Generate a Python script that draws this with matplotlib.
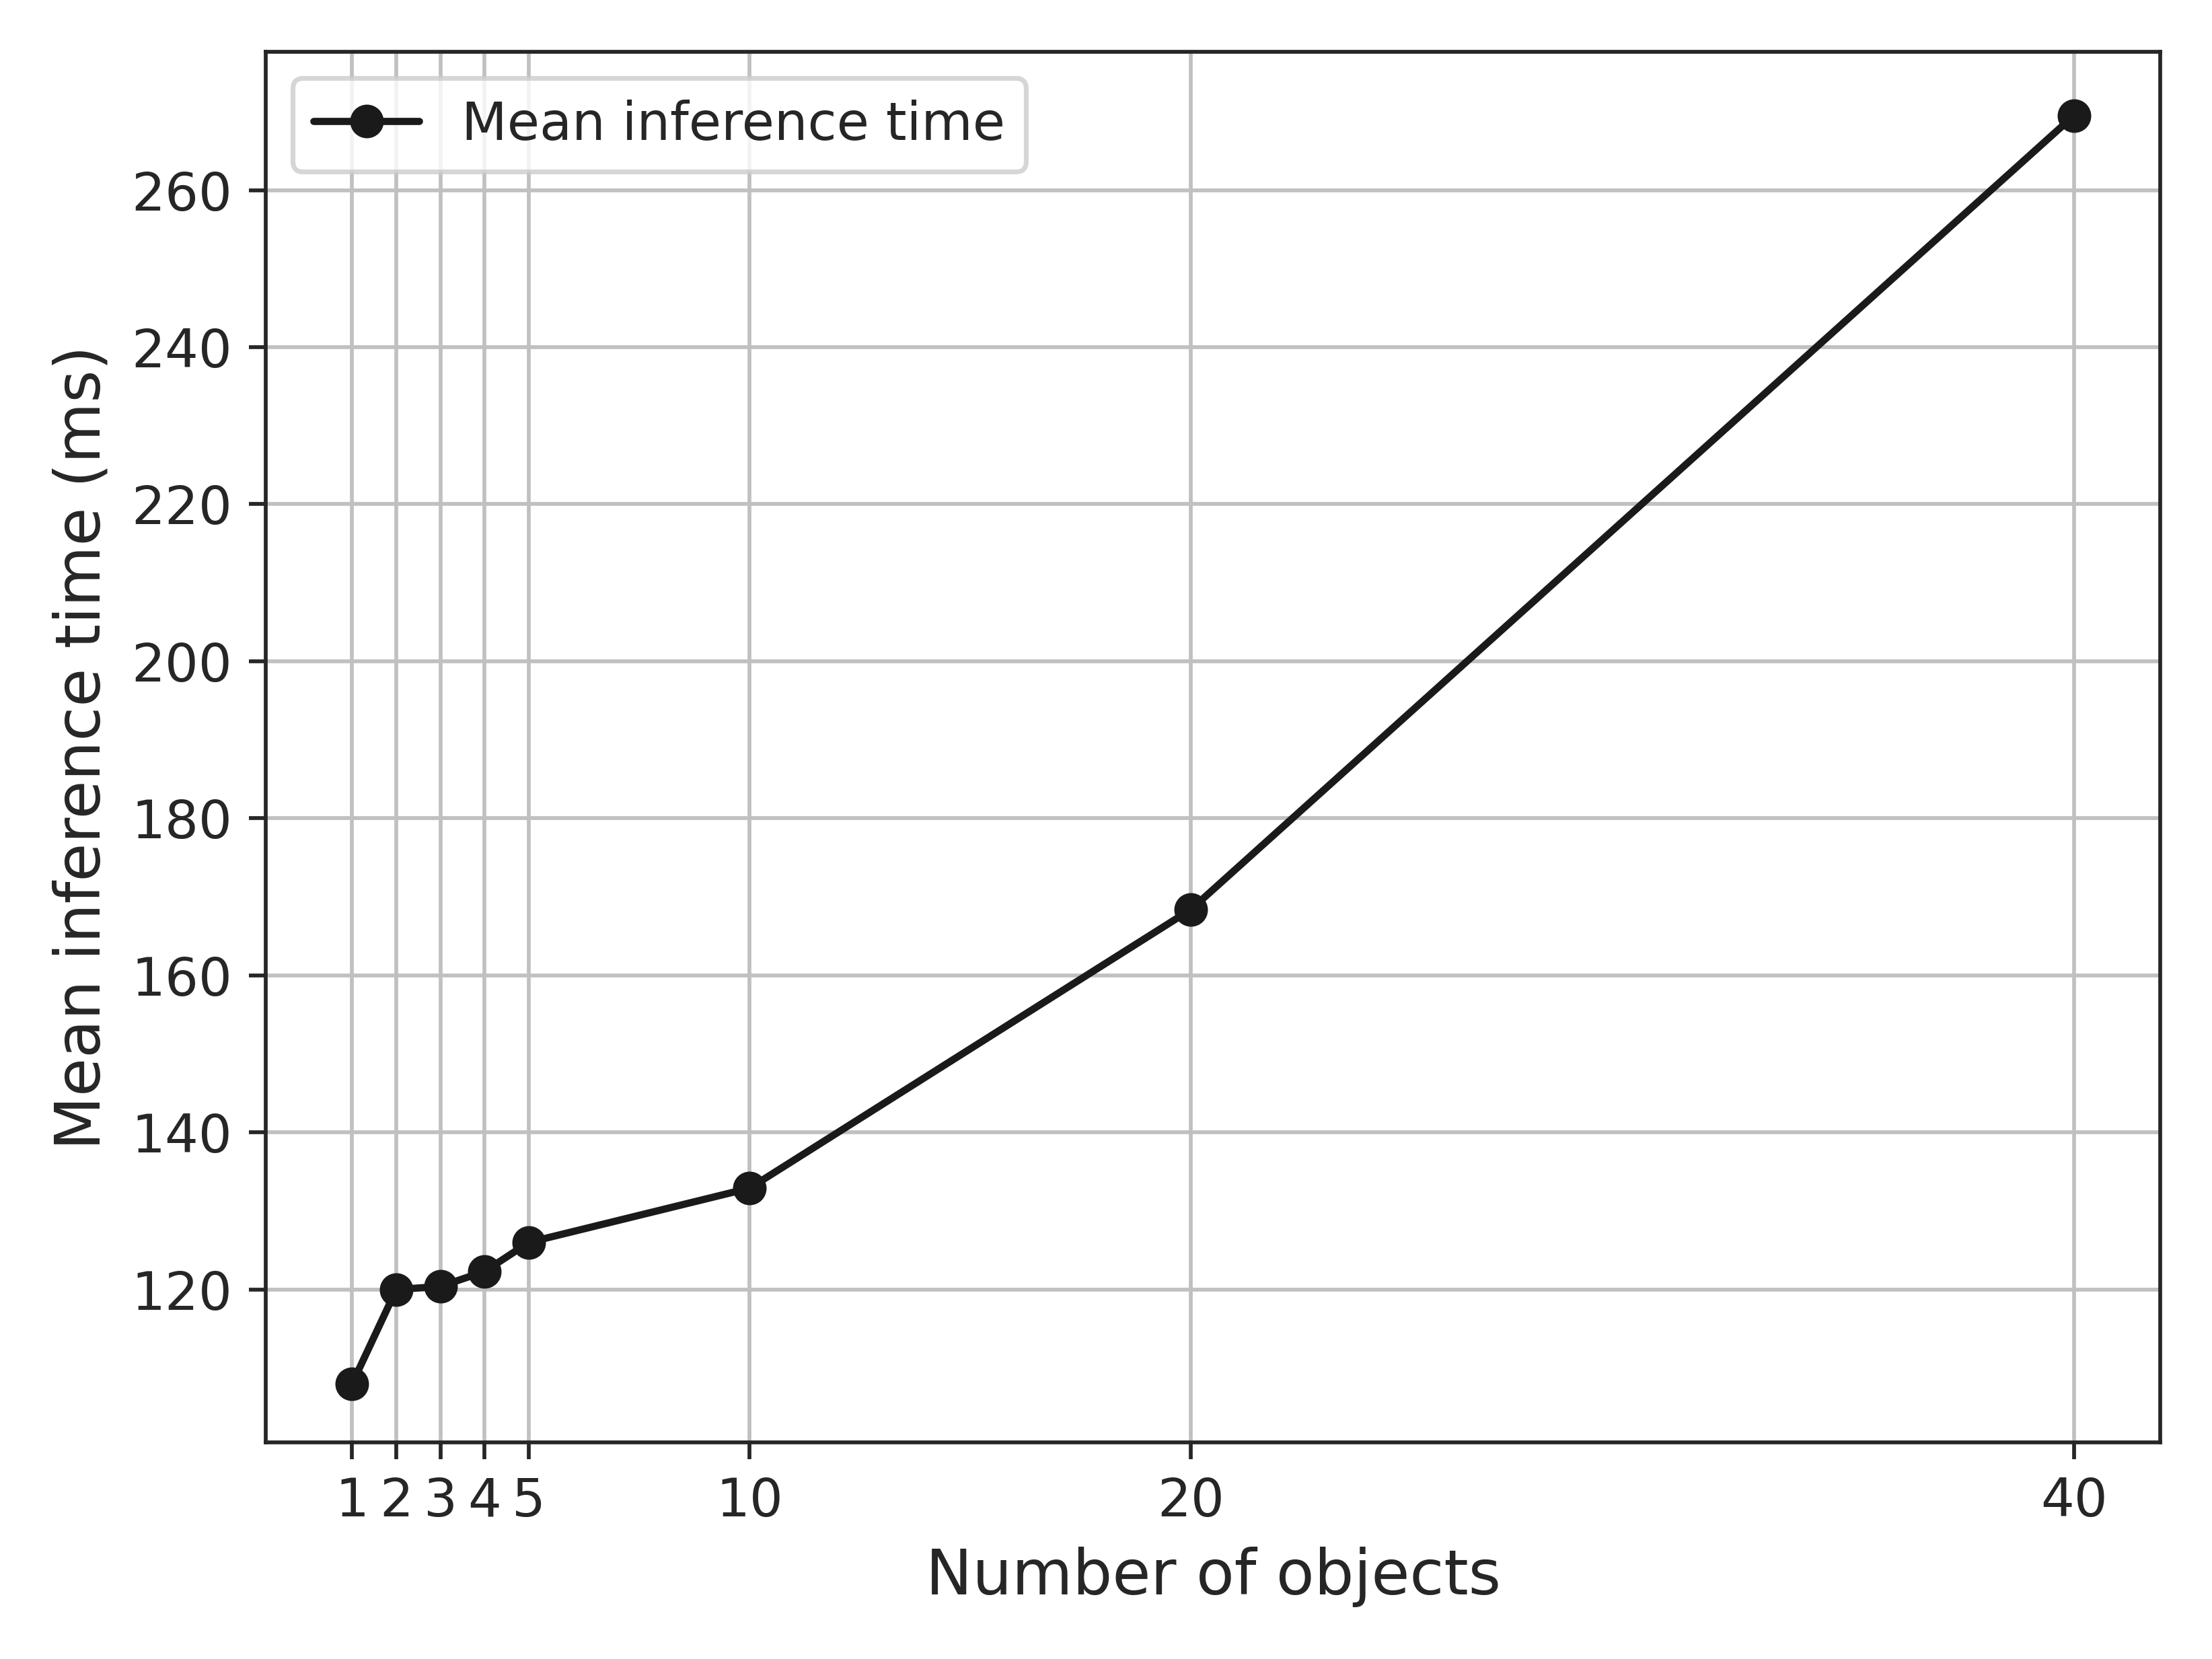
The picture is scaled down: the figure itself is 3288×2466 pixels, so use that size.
import matplotlib
matplotlib.use("Agg")
import matplotlib.pyplot as plt
import seaborn as sns

objects = [1, 2, 3, 4, 5, 10, 20, 40]
times = [108.0, 120.0, 120.4, 122.3, 126.0, 132.9, 168.4, 269.5]

sns.set_style("ticks")
plt.rcParams['font.family'] = ['DejaVu Sans']
fig, ax = plt.subplots(figsize=(6.4, 4.8), dpi=513.75)
ax.plot(objects, times, marker='o', color='#1a1a1a', label='Mean inference time')
ax.set_xticks(objects)
ax.set_ylim(100.5, 277.6)
ax.tick_params(labelsize=11)
ax.grid(True, color='#c0c0c0', linewidth=0.8)
ax.set_xlabel('Number of objects', fontsize=13)
ax.set_ylabel('Mean inference time (ms)', fontsize=13)
ax.legend(loc='upper left', fontsize=11)
fig.tight_layout()
fig.savefig('out.png')
